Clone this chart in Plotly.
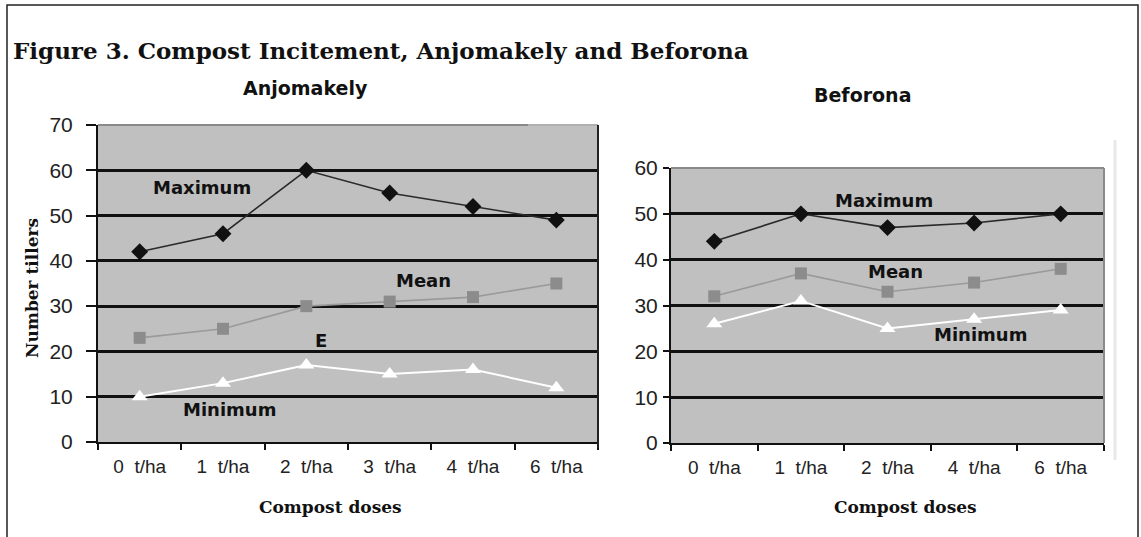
import plotly.graph_objects as go

W, H = 1141, 537

# ---- data ----
anj_categories = ["0  t/ha", "1  t/ha", "2  t/ha", "3  t/ha", "4  t/ha", "6  t/ha"]
anj_maximum = [42, 46, 60, 55, 52, 49]
anj_mean = [23, 25, 30, 31, 32, 35]
anj_minimum = [10, 13, 17, 15, 16, 12]

bef_categories = ["0  t/ha", "1  t/ha", "2  t/ha", "4  t/ha", "6  t/ha"]
bef_maximum = [44, 50, 47, 48, 50]
bef_mean = [32, 37, 33, 35, 38]
bef_minimum = [26, 31, 25, 27, 29]

main_title = "Figure 3. Compost Incitement, Anjomakely and Beforona"
x_title = "Compost doses"
y_title = "Number tillers"


def px(x):
    return x / W


def py(y):
    return 1 - y / H


fig = go.Figure()

series_style = {
    "max": dict(line=dict(color="#2a2a2a", width=1.6),
                marker=dict(symbol="diamond", size=13, color="#111111")),
    "mean": dict(line=dict(color="#9a9a9a", width=1.6),
                 marker=dict(symbol="square", size=12, color="#8c8c8c")),
    "min": dict(line=dict(color="#ffffff", width=2),
                marker=dict(symbol="triangle-up", size=14, color="#ffffff")),
}

for cats, vals, key, xa, ya in [
    (anj_categories, anj_maximum, "max", "x", "y"),
    (anj_categories, anj_mean, "mean", "x", "y"),
    (anj_categories, anj_minimum, "min", "x", "y"),
    (bef_categories, bef_maximum, "max", "x2", "y2"),
    (bef_categories, bef_mean, "mean", "x2", "y2"),
    (bef_categories, bef_minimum, "min", "x2", "y2"),
]:
    st = series_style[key]
    fig.add_trace(go.Scatter(x=cats, y=vals, mode="lines+markers",
                             line=st["line"], marker=st["marker"],
                             xaxis=xa, yaxis=ya, showlegend=False,
                             cliponaxis=False, hoverinfo="skip"))

L = dict(x0=98, x1=598, y0=442, y1=125)
R = dict(x0=671, x1=1104, y0=443, y1=168)

tickfont_y = dict(family="Liberation Sans, Arial, sans-serif", size=21, color="#222222")
tickfont_x = dict(family="Liberation Sans, Arial, sans-serif", size=19, color="#222222")

common_x = dict(type="category", showline=True, linecolor="#111111", linewidth=2,
                ticks="outside", tickson="boundaries", ticklen=6, tickwidth=2,
                tickcolor="#111111", showgrid=False, tickfont=tickfont_x,
                ticklabelstandoff=6, zeroline=False, automargin=False)
common_y = dict(showline=True, linecolor="#111111", linewidth=2, ticks="outside",
                tickwidth=2, tickcolor="#111111", showgrid=True,
                gridcolor="#111111", gridwidth=2.5, dtick=10, tickfont=tickfont_y,
                zeroline=False, automargin=False)

fig.update_layout(
    width=W, height=H,
    margin=dict(l=0, r=0, t=0, b=0, autoexpand=False),
    paper_bgcolor="white",
    plot_bgcolor="#c0c0c0",
    xaxis=dict(domain=[px(L["x0"]), px(L["x1"])], anchor="y",
               range=[-0.5, len(anj_categories) - 0.5], **common_x),
    yaxis=dict(domain=[py(L["y0"]), py(L["y1"])], anchor="x", range=[0, 70],
               ticklen=10, ticklabelstandoff=9, **common_y),
    xaxis2=dict(domain=[px(R["x0"]), px(R["x1"])], anchor="y2",
                range=[-0.5, len(bef_categories) - 0.5], **common_x),
    yaxis2=dict(domain=[py(R["y0"]), py(R["y1"])], anchor="x2", range=[0, 60],
                ticklen=6, ticklabelstandoff=1, **common_y),
)

shapes = []
# left plot: top border (grey, lighter towards the right) and dark right border
shapes.append(dict(type="line", xref="paper", yref="paper",
                   x0=px(L["x0"]), x1=px(528), y0=py(L["y1"]), y1=py(L["y1"]),
                   line=dict(color="#8a8a8a", width=2)))
shapes.append(dict(type="line", xref="paper", yref="paper",
                   x0=px(528), x1=px(L["x1"]), y0=py(L["y1"]), y1=py(L["y1"]),
                   line=dict(color="#b0b0b0", width=2)))
shapes.append(dict(type="line", xref="paper", yref="paper",
                   x0=px(L["x1"]), x1=px(L["x1"]), y0=py(L["y0"] + 6), y1=py(L["y1"]),
                   line=dict(color="#222222", width=2)))
# right plot: grey top and right border
shapes.append(dict(type="line", xref="paper", yref="paper",
                   x0=px(R["x0"]), x1=px(R["x1"]), y0=py(R["y1"]), y1=py(R["y1"]),
                   line=dict(color="#8a8a8a", width=2)))
shapes.append(dict(type="line", xref="paper", yref="paper",
                   x0=px(R["x1"]), x1=px(R["x1"]), y0=py(R["y0"]), y1=py(R["y1"]),
                   line=dict(color="#8a8a8a", width=2)))
# faint line right of Beforona
shapes.append(dict(type="line", xref="paper", yref="paper",
                   x0=px(1115), x1=px(1115), y0=py(140), y1=py(460),
                   line=dict(color="#e8e8e8", width=3)))
# outer frame
shapes.append(dict(type="rect", xref="paper", yref="paper",
                   x0=px(7), x1=px(1138), y0=py(545), y1=py(5),
                   line=dict(color="#222222", width=1.5), fillcolor="rgba(0,0,0,0)"))
fig.update_layout(shapes=shapes)

serif = "DejaVu Serif, Liberation Serif, serif"
sans_b = "DejaVu Sans, Liberation Sans, sans-serif"
ink = "#111111"
annotations = [
    dict(text=f"<b>{main_title}</b>", x=px(11), y=py(50), xanchor="left",
         font=dict(family=serif, size=23, color=ink)),
    dict(text="<b>Anjomakely</b>", x=px(305), y=py(88),
         font=dict(family=sans_b, size=19, color=ink)),
    dict(text="<b>Beforona</b>", x=px(862), y=py(95),
         font=dict(family=sans_b, size=19, color=ink)),
    dict(text=f"<b>{x_title}</b>", x=px(330), y=py(507),
         font=dict(family=serif, size=17, color=ink)),
    dict(text=f"<b>{x_title}</b>", x=px(905), y=py(507),
         font=dict(family=serif, size=17, color=ink)),
    dict(text=f"<b>{y_title}</b>", x=px(32), y=py(288), textangle=-90,
         font=dict(family=serif, size=17, color=ink)),
    # series labels
    dict(text="<b>Maximum</b>", x=px(202), y=py(187), font=dict(family=sans_b, size=18, color=ink)),
    dict(text="<b>Mean</b>", x=px(423), y=py(280), font=dict(family=sans_b, size=18, color=ink)),
    dict(text="<b>E</b>", x=px(321), y=py(340), font=dict(family=sans_b, size=18, color=ink)),
    dict(text="<b>Minimum</b>", x=px(229), y=py(409), font=dict(family=sans_b, size=18, color=ink)),
    dict(text="<b>Maximum</b>", x=px(884), y=py(200), font=dict(family=sans_b, size=18, color=ink)),
    dict(text="<b>Mean</b>", x=px(895), y=py(271), font=dict(family=sans_b, size=18, color=ink)),
    dict(text="<b>Minimum</b>", x=px(980), y=py(334), font=dict(family=sans_b, size=18, color=ink)),
]
for a in annotations:
    a.setdefault("xref", "paper")
    a.setdefault("yref", "paper")
    a.setdefault("showarrow", False)
    a.setdefault("xanchor", "center")
    a.setdefault("yanchor", "middle")
fig.update_layout(annotations=annotations, hovermode=False)

fig.write_html(
    "out.html",
    config={"displayModeBar": False},
    post_script="document.body.style.margin='0';document.body.style.overflow='hidden';",
)
